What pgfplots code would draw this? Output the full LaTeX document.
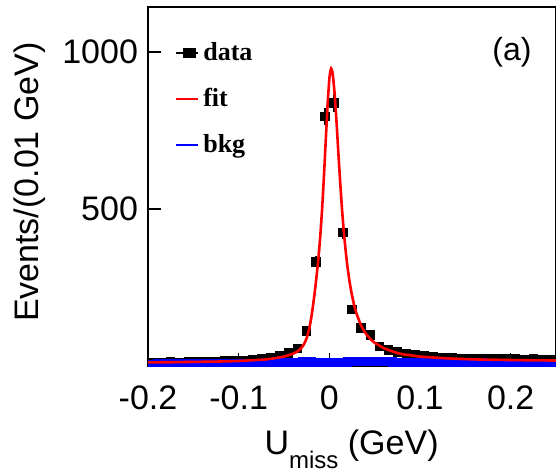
\documentclass[border=0pt]{standalone}
\usepackage{fontspec}
\setmainfont{Liberation Sans}
\newfontfamily\legfont{Liberation Serif}
\usepackage{pgfplots}
\usepackage{pgfplotstable}
\pgfplotsset{compat=1.18}
\usetikzlibrary{calc}

\pgfplotstableread{
x y e
-0.195 13 3.6
-0.185 12 3.5
-0.175 14 3.7
-0.165 13 3.6
-0.155 15 3.9
-0.145 14 3.7
-0.135 16 4.0
-0.125 15 3.9
-0.115 17 4.1
-0.105 18 4.2
-0.095 19 4.4
-0.085 21 4.6
-0.075 24 4.9
-0.065 27 5.2
-0.055 33 5.7
-0.045 43 6.6
-0.035 57 7.5
-0.025 113 10.6
-0.015 333 18.2
-0.005 795 28.2
0.005 838 28.9
0.015 427 20.7
0.025 182 13.5
0.035 122 11.0
0.045 100 10.0
0.055 64 8.0
0.065 52 7.2
0.075 46 6.8
0.085 41 6.4
0.095 37 6.1
0.105 33 5.7
0.115 30 5.5
0.125 28 5.3
0.135 27 5.2
0.145 26 5.1
0.155 25 5.0
0.165 24 4.9
0.175 24 4.9
0.185 23 4.8
0.195 25 5.0
0.205 23 4.8
0.215 22 4.7
0.225 23 4.8
0.235 22 4.7
0.245 21 4.6
}\datatab

\pgfplotstableread{
x y
-0.200 12.5
-0.175 13
-0.150 14
-0.125 15
-0.100 17
-0.080 20
-0.070 22
-0.060 26
-0.050 31
-0.040 40
-0.035 48
-0.031 58
-0.028 70
-0.025 90
-0.022 122
-0.020 153
-0.018 193
-0.016 238
-0.014 289
-0.012 344
-0.010 414
-0.008 499
-0.006 602
-0.004 716
-0.002 829
0.000 915
0.001 938
0.002 948
0.003 942
0.004 925
0.006 862
0.008 775
0.010 678
0.012 585
0.014 500
0.016 428
0.018 368
0.020 317
0.0225 266
0.025 226
0.0275 193
0.030 168
0.035 130
0.040 105
0.045 88
0.050 75
0.060 58
0.070 47
0.080 39
0.090 35
0.100 31
0.120 27
0.140 24
0.160 22
0.180 21
0.200 20
0.225 19
0.250 18.5
}\fittab

\pgfplotstableread{
x y
-0.200 7
-0.195 7
-0.185 8
-0.175 7
-0.165 8
-0.155 7
-0.145 8
-0.135 8
-0.125 9
-0.115 9
-0.105 9
-0.095 10
-0.085 10
-0.075 10
-0.065 11
-0.055 11
-0.045 12
-0.035 13
-0.025 14
-0.015 12
-0.005 13
0.005 11
0.015 13
0.025 14
0.035 15
0.045 16
0.055 15
0.065 14
0.075 12
0.085 11
0.095 11
0.105 12
0.115 11
0.125 10
0.135 11
0.145 10
0.155 10
0.165 11
0.175 10
0.185 10
0.195 9
0.205 10
0.215 9
0.225 10
0.235 9
0.245 10
0.250 10
}\bkgtab

\begin{document}
\begin{tikzpicture}
\begin{axis}[
  scale only axis,
  width=204pt, height=179.5pt,
  xmin=-0.2, xmax=0.25,
  ymin=0, ymax=1143,
  axis line style={line width=1pt},
  tick style={line width=0.8pt, black},
  xtick={-0.2,-0.1,0,0.1,0.2},
  ytick={500,1000},
  xticklabels={-0.2,-0.1,0,0.1,0.2},
  yticklabels={500,1000},
  tick align=inside,
  xtick pos=bottom, ytick pos=left,
  major tick length=6.5pt,
  minor tick num=0,
  /pgf/number format/assume math mode=true,
  ticklabel style={font=\fontsize{17}{18}\selectfont},
  xticklabel style={yshift=-6pt},
  yticklabel style={xshift=-1.5pt},
  xlabel={U\raisebox{-0.4em}{\fontsize{12}{12}\selectfont miss} (GeV)},
  ylabel={Events/(0.01 GeV)},
  label style={font=\fontsize{17}{18}\selectfont},
  xlabel style={at={(axis description cs:0.499,-0.247)}, anchor=base},
  ylabel style={at={(axis description cs:-0.289,0.513)}, anchor=center},
  legend style={at={(axis description cs:0.066,0.915)}, anchor=north west,
    draw=none, fill=none, inner sep=0pt, row sep=8.5pt,
    font=\legfont\bfseries\fontsize{13}{13}\selectfont},
  legend cell align=left,
  clip=true,
  clip marker paths=true,
]
\addplot[only marks, black, mark=square*, mark size=2.1pt, forget plot,
  error bars/.cd, y dir=both, y explicit, x dir=both, x fixed=0.005,
  error bar style={line width=0.9pt, black}, error mark=none]
  table[x=x, y=y, y error=e] {\datatab};
\addplot[blue, line width=4.5pt, const plot mark mid, forget plot] table[x=x,y=y] {\bkgtab};
\addplot[red, line width=1.3pt, smooth, tension=0.3, forget plot] table[x=x,y=y] {\fittab};
\addlegendimage{legend image code/.code={\draw[black, line width=1pt] (0pt,0pt) -- (11pt,0pt); \fill[black] (3.5pt,-2.3pt) rectangle (9.5pt,2.3pt);}}
\addlegendentry{data}
\addlegendimage{legend image code/.code={\draw[red, line width=0.8pt] (0pt,0pt) -- (11pt,0pt);}}
\addlegendentry{fit}
\addlegendimage{legend image code/.code={\draw[blue, line width=0.8pt] (0pt,0pt) -- (11pt,0pt);}}
\addlegendentry{bkg}
\node[font=\fontsize{16}{16}\selectfont] at (axis description cs:0.892,0.875) {(a)};
\coordinate (sw) at (rel axis cs:0,0);
\coordinate (ne) at (rel axis cs:1,1);
\end{axis}
\pgfresetboundingbox
\useasboundingbox ($(sw)+(-74pt,-52.85pt)$) rectangle ($(ne)+(0pt,3.65pt)$);
\end{tikzpicture}
\end{document}
